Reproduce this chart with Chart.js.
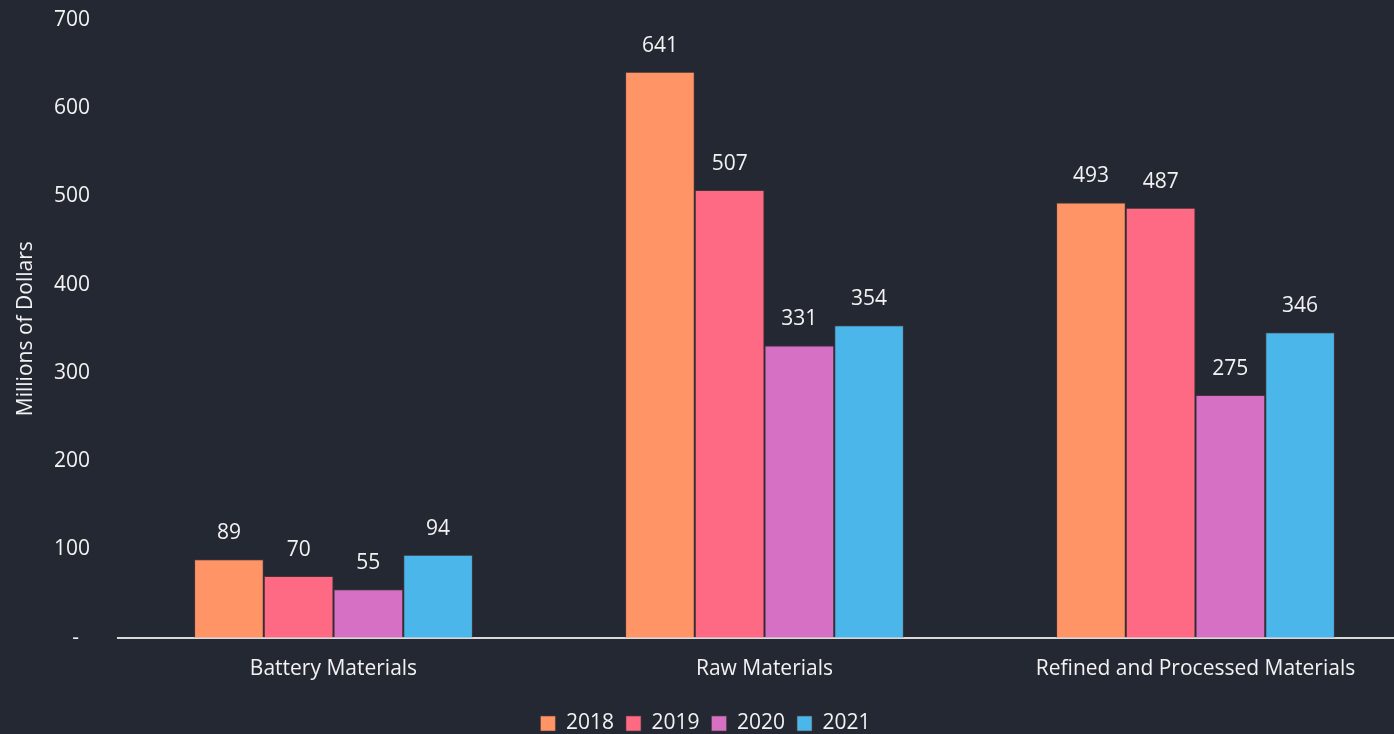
<!DOCTYPE html>
<html>
<head>
<meta charset="utf-8">
<script src="https://cdn.jsdelivr.net/npm/chart.js@4.4.1/dist/chart.umd.min.js"></script>
<style>
html,body{margin:0;padding:0;background:#232833;overflow:hidden;}
#wrap{width:1411px;height:755px;margin-top:-21px;position:relative;}
</style>
</head>
<body>
<div id="wrap"><canvas id="c"></canvas></div>
<script>
const categories = ["Battery Materials", "Raw Materials", "Refined and Processed Materials"];
const years = ["2018", "2019", "2020", "2021"];
const values2018 = [89, 641, 493];
const values2019 = [70, 507, 487];
const values2020 = [55, 331, 275];
const values2021 = [94, 354, 346];
const colors = ["#FF9466", "#FE6A83", "#D670C4", "#4AB6EA"];
const yTicks = [0, 100, 200, 300, 400, 500, 600, 700];

const series = [values2018, values2019, values2020, values2021];
const FONT = "'Open Sans', sans-serif";
const TEXT = "#f2f2f2";
const FS = 21;

const labelPlugin = {
  id: 'vals',
  afterDatasetsDraw(chart) {
    const ctx = chart.ctx;
    ctx.save();
    ctx.fillStyle = TEXT;
    ctx.font = FS + "px " + FONT;
    ctx.textAlign = 'center';
    ctx.textBaseline = 'middle';
    chart.data.datasets.forEach((ds, i) => {
      chart.getDatasetMeta(i).data.forEach((bar, j) => {
        ctx.fillText(String(ds.data[j]), bar.x, bar.y - 26);
      });
    });
    ctx.restore();
  }
};

new Chart(document.getElementById('c'), {
  type: 'bar',
  data: {
    labels: categories,
    datasets: years.map((y, i) => ({
      label: y,
      data: series[i],
      backgroundColor: colors[i],
      borderColor: 'rgba(90,60,60,0.6)',
      borderWidth: 1,
      barPercentage: 1,
      categoryPercentage: 0.647
    }))
  },
  options: {
    responsive: true,
    maintainAspectRatio: false,
    animation: false,
    layout: { padding: { top: 0, right: 0, left: 0, bottom: -10 } },
    plugins: {
      legend: {
        position: 'bottom',
        labels: {
          color: TEXT,
          font: { family: FONT, size: FS },
          boxWidth: 15,
          boxHeight: 15,
          padding: 12
        }
      },
      tooltip: { enabled: false }
    },
    scales: {
      x: {
        grid: { display: false, drawTicks: false },
        border: { display: true, color: '#d9d9d9', width: 2 },
        ticks: { color: TEXT, font: { family: FONT, size: FS }, padding: 19 }
      },
      y: {
        min: 0, max: 700,
        afterBuildTicks(scale) { scale.ticks = yTicks.map(v => ({ value: v })); },
        afterFit(scale) { scale.width = 118; },
        grid: { display: false, drawTicks: false },
        border: { display: false },
        ticks: {
          color: TEXT,
          font: { family: FONT, size: FS },
          padding: 28,
          callback: v => v === 0 ? '-  ' : String(v)
        },
        title: {
          display: true,
          text: 'Millions of Dollars',
          color: TEXT,
          font: { family: FONT, size: FS },
          padding: { top: 13, bottom: 0 }
        }
      }
    }
  },
  plugins: [labelPlugin]
});
</script>
</body>
</html>
